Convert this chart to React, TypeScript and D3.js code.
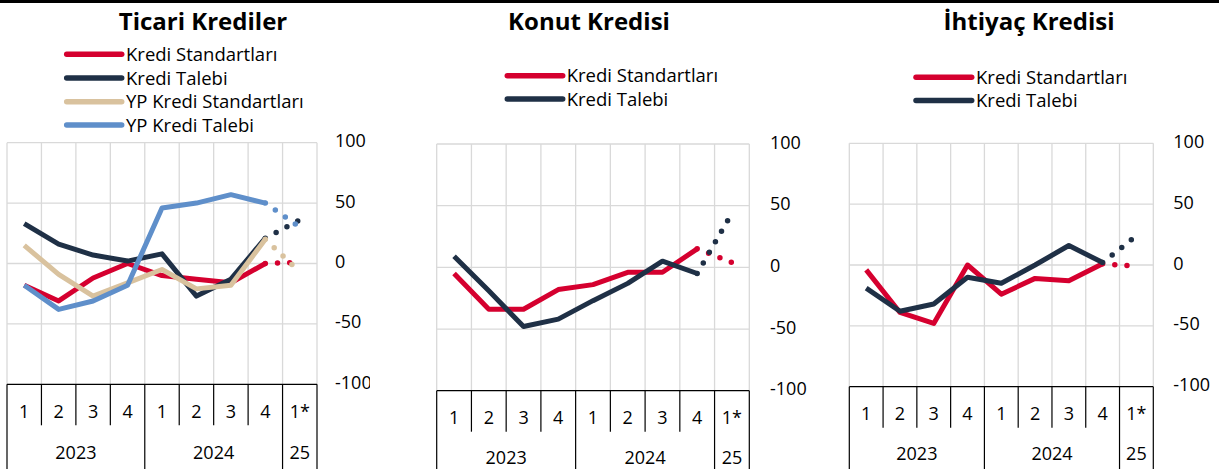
import React from "react";
import * as d3 from "d3";

// ---- Data ----
const quarterLabels = ["1", "2", "3", "4", "1", "2", "3", "4", "1*"];
const yearLabels = ["2023", "2024", "25"];
const yearSpans = [4, 4, 1];
const yTicks = [100, 50, 0, -50, -100];

const seriesNames = ["Kredi Standartları", "Kredi Talebi", "YP Kredi Standartları", "YP Kredi Talebi"];

// Ticari Krediler (Q1'23..Q4'24 actual, then Q1'25 expectation)
const ticariStandart = [-18, -31, -12, 0, -10, -13, -16, 0];
const ticariStandartExp = 1;
const ticariTalep = [33, 16, 7, 2, 8, -27, -13, 21];
const ticariTalepExp = 36;
const ticariYPStandart = [15, -9, -27, -16, -5, -21, -18, 20];
const ticariYPStandartExp = -7;
const ticariYPTalep = [-18, -38, -31, -18, 46, 50, 57, 50];
const ticariYPTalepExp = 30;

// Konut Kredisi
const konutStandart = [-5, -34, -34, -18, -14, -4, -4, 15];
const konutStandartExp = 4;
const konutTalep = [9, -19, -48, -42, -27, -13, 5, -5];
const konutTalepExp = 44;

// İhtiyaç Kredisi
const ihtiyacStandart = [-4, -39, -48, 0, -24, -11, -13, 1];
const ihtiyacStandartExp = -1;
const ihtiyacTalep = [-19, -38, -32, -10, -15, 0, 16, 2];
const ihtiyacTalepExp = 24;

const colors = ["#D5002F", "#1F3046", "#D9C29E", "#5F8FCA"];

type Series = { name: string; color: string; values: number[]; exp: number };

const panels = [
  {
    title: "Ticari Krediler",
    layout: { titleX: 203, titleY: 29.5, left: 7, right: 317, yTop: 142.7, yBot: 384.3, legX1: 66.7, legX2: 121.7, legTextX: 126, legY: [54.3, 78, 101.7, 125], tickX: 335, qY: 412, yearY: 452.5, clipRight: 370 },
    series: [
      { name: seriesNames[0], color: colors[0], values: ticariStandart, exp: ticariStandartExp },
      { name: seriesNames[1], color: colors[1], values: ticariTalep, exp: ticariTalepExp },
      { name: seriesNames[2], color: colors[2], values: ticariYPStandart, exp: ticariYPStandartExp },
      { name: seriesNames[3], color: colors[3], values: ticariYPTalep, exp: ticariYPTalepExp },
    ] as Series[],
  },
  {
    title: "Konut Kredisi",
    layout: { titleX: 589, titleY: 30, left: 436.7, right: 749.3, yTop: 144, yBot: 390.7, legX1: 507.3, legX2: 562.7, legTextX: 566.7, legY: [75.7, 99], tickX: 770, qY: 417.5, yearY: 457.5, clipRight: 1219 },
    series: [
      { name: seriesNames[0], color: colors[0], values: konutStandart, exp: konutStandartExp },
      { name: seriesNames[1], color: colors[1], values: konutTalep, exp: konutTalepExp },
    ] as Series[],
  },
  {
    title: "İhtiyaç Kredisi",
    layout: { titleX: 1029, titleY: 30, left: 849.3, right: 1153.3, yTop: 143.3, yBot: 386.7, legX1: 916, legX2: 971.7, legTextX: 976, legY: [77.3, 100.6], tickX: 1173.3, qY: 413.5, yearY: 454, clipRight: 1219 },
    series: [
      { name: seriesNames[0], color: colors[0], values: ihtiyacStandart, exp: ihtiyacStandartExp },
      { name: seriesNames[1], color: colors[1], values: ihtiyacTalep, exp: ihtiyacTalepExp },
    ] as Series[],
  },
];

const W = 1219;
const H = 469;
const FONT = "'Open Sans', 'Noto Sans', sans-serif";
const FS = 18;

function Panel({ p, idx }: { p: (typeof panels)[number]; idx: number }) {
  const L = p.layout;
  const x = d3.scaleBand<number>().domain(d3.range(quarterLabels.length)).range([L.left, L.right]).padding(0);
  const y = d3.scaleLinear().domain([-100, 100]).range([L.yBot, L.yTop]);
  const cx = (i: number) => (x(i) as number) + x.bandwidth() / 2;
  const line = d3
    .line<[number, number]>()
    .x((d) => d[0])
    .y((d) => d[1]);
  const boundaries = d3.range(quarterLabels.length + 1).map((i) => L.left + i * x.bandwidth());
  const yearStarts: number[] = [];
  let acc = 0;
  yearSpans.forEach((s) => {
    yearStarts.push(acc);
    acc += s;
  });
  const longIdx = new Set([...yearStarts, quarterLabels.length]);
  const clipId = `clip-${idx}`;
  const lastIdx = quarterLabels.length - 1;

  return (
    <g clipPath={`url(#${clipId})`}>
      <defs>
        <clipPath id={clipId}>
          <rect x={0} y={0} width={L.clipRight} height={H} />
        </clipPath>
      </defs>
      <text x={L.titleX} y={L.titleY} textAnchor="middle" fontFamily={FONT} fontWeight={700} fontSize={24} fill="#000">
        {p.title}
      </text>
      {p.series.map((s, i) => (
        <g key={s.name}>
          <line x1={L.legX1} x2={L.legX2} y1={L.legY[i]} y2={L.legY[i]} stroke={s.color} strokeWidth={5.5} strokeLinecap="round" />
          <text x={L.legTextX} y={L.legY[i] + 6.6} fontFamily={FONT} fontSize={18.5} fill="#000">
            {s.name}
          </text>
        </g>
      ))}
      {/* grid */}
      {boundaries.map((bx, i) => (
        <line key={`v${i}`} x1={bx} x2={bx} y1={y(100)} y2={y(-100)} stroke="#d9d9d9" strokeWidth={1.3} />
      ))}
      {yTicks
        .filter((t) => t > -100)
        .map((t) => (
          <line key={`h${t}`} x1={L.left} x2={L.right} y1={y(t)} y2={y(t)} stroke="#d9d9d9" strokeWidth={1.3} />
        ))}
      {/* y tick labels */}
      {yTicks.map((t) => (
        <text key={`t${t}`} x={L.tickX} y={y(t) + 4.5} fontFamily={FONT} fontSize={FS} fill="#000">
          {t}
        </text>
      ))}
      {/* x axis */}
      <line x1={L.left} x2={L.right} y1={y(-100)} y2={y(-100)} stroke="#000" strokeWidth={1.3} />
      {boundaries.map((bx, i) => (
        <line
          key={`s${i}`}
          x1={bx}
          x2={bx}
          y1={y(-100)}
          y2={longIdx.has(i) ? H : y(-100) + 41}
          stroke="#000"
          strokeWidth={1.2}
        />
      ))}
      {quarterLabels.map((q, i) => (
        <text key={`q${i}`} x={cx(i)} y={L.qY + 6.4} textAnchor="middle" fontFamily={FONT} fontSize={FS} fill="#000">
          {q}
        </text>
      ))}
      {yearLabels.map((yl, i) => {
        const a = L.left + yearStarts[i] * x.bandwidth();
        const b = a + yearSpans[i] * x.bandwidth();
        return (
          <text key={`y${i}`} x={(a + b) / 2} y={L.yearY + 6.4} textAnchor="middle" fontFamily={FONT} fontSize={FS} fill="#000">
            {yl}
          </text>
        );
      })}
      {/* series */}
      {p.series.map((s) => {
        const pts: [number, number][] = s.values.map((v, i) => [cx(i), y(v)]);
        const expPts: [number, number][] = [
          [cx(s.values.length - 1), y(s.values[s.values.length - 1])],
          [cx(lastIdx), y(s.exp)],
        ];
        return (
          <g key={`l${s.name}`}>
            <path d={line(expPts) || ""} fill="none" stroke={s.color} strokeWidth={5.5} strokeLinecap="round" strokeDasharray="0 12.2" />
            <path d={line(pts) || ""} fill="none" stroke={s.color} strokeWidth={5} strokeLinejoin="round" strokeLinecap="butt" />
          </g>
        );
      })}
    </g>
  );
}

export default function App() {
  return (
    <svg width={W} height={H} style={{ position: "absolute", left: 0, top: 0, background: "#fff" }}>
      <rect x={0} y={0} width={W} height={H} fill="#fff" />
      <rect x={0} y={0} width={W} height={3} fill="#000" />
      {panels.map((p, i) => (
        <Panel key={p.title} p={p} idx={i} />
      ))}
    </svg>
  );
}
